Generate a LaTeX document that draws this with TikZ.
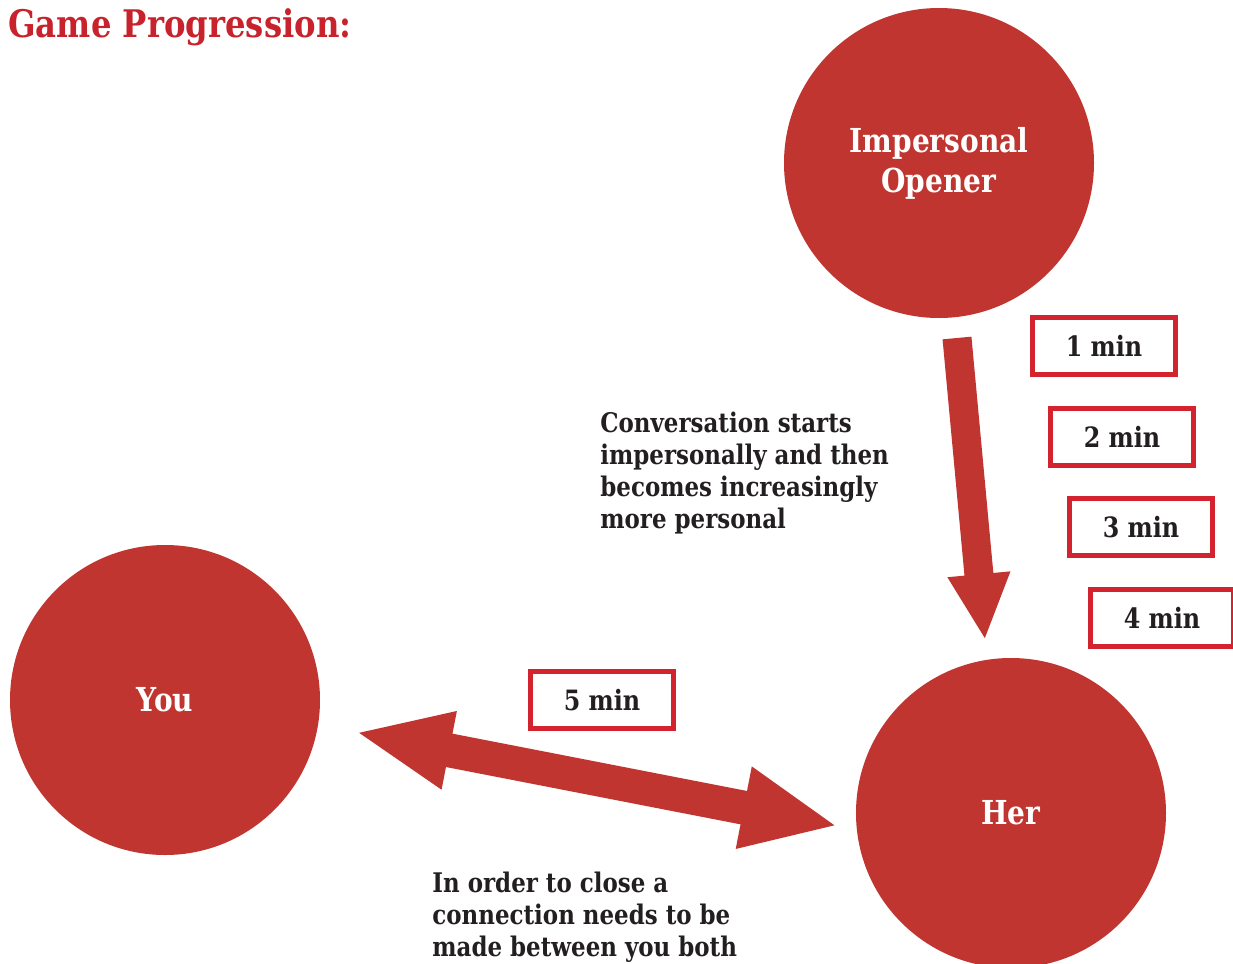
\documentclass[tikz,border=0pt]{standalone}
\usepackage{fontspec}
\setmainfont{DejaVu Serif}
\newfontfamily\slab[FakeStretch=0.85]{DejaVu Serif}
\usetikzlibrary{arrows.meta}
\definecolor{circred}{HTML}{C0352F}
\definecolor{boxred}{HTML}{D2232E}
\definecolor{titlered}{HTML}{C8232C}
\definecolor{textdark}{HTML}{231F20}
\tikzset{
  bigcircle/.style={circle, fill=circred, minimum size=155pt, inner sep=0pt,
    text=white, align=center, font=\slab\bfseries\fontsize{16.5}{20}\selectfont},
  timebox/.style={draw=boxred, fill=white, line width=2.5pt, minimum width=71.5pt,
    minimum height=28.5pt, inner sep=0pt, text=textdark,
    font=\slab\bfseries\fontsize{14}{16}\selectfont},
  bodytext/.style={anchor=north west, inner sep=0pt, align=left, text=textdark,
    font=\slab\bfseries\fontsize{13.5}{16}\selectfont},
  bigarrow/.style={draw=circred, line cap=butt},
}
\begin{document}
\begin{tikzpicture}[x=0.5pt,y=-0.5pt]
\useasboundingbox (0,0) rectangle (1233,964);
\node[anchor=base west, inner sep=0pt, text=titlered, font=\slab\bfseries\fontsize{19}{22}\selectfont] (title) at (8,37) {Game Progression:};
\node[bigcircle] (opener) at (939,163) {Impersonal\\Opener};
\node[bigcircle] (you) at (165,700) {You};
\node[bigcircle] (her) at (1011,813) {Her};
\node[timebox] (b1) at (1104,346) {1 min};
\node[timebox] (b2) at (1122,437) {2 min};
\node[timebox] (b3) at (1141,527) {3 min};
\node[timebox] (b4) at (1162,618) {4 min};
\node[timebox] (b5) at (602,700) {5 min};
\node[bodytext] (conv) at (600,412) {Conversation starts\\impersonally and then\\becomes increasingly\\more personal};
\node[bodytext] (close) at (432,872) {In order to close a\\connection needs to be\\made between you both};
\coordinate (dstart) at (957,338);
\coordinate (dtip) at (985,640);
\coordinate (ltip) at (355,732);
\coordinate (rtip) at (838,826);
\draw[bigarrow, line width=14.5pt, -{Triangle[length=33pt,width=29pt]}] (dstart) -- (dtip);
\draw[bigarrow, line width=17pt, {Triangle[length=48pt,width=36pt]}-{Triangle[length=48pt,width=38pt]}] (ltip) -- (rtip);
\end{tikzpicture}
\end{document}
